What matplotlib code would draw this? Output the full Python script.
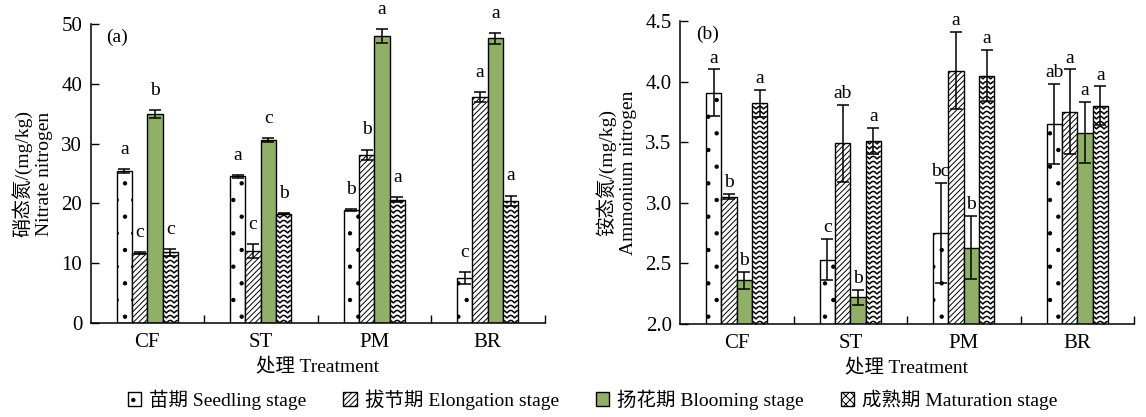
import numpy as np
import matplotlib
matplotlib.use("Agg")
import matplotlib.pyplot as plt
from matplotlib.patches import Patch
from matplotlib.collections import LineCollection

plt.rcParams['font.family'] = ['Liberation Serif', 'Noto Sans CJK SC', 'DejaVu Sans']
plt.rcParams['hatch.linewidth'] = 0.7

treatments = ['CF', 'ST', 'PM', 'BR']
stages = ['苗期 Seedling stage', '拔节期 Elongation stage', '扬花期 Blooming stage', '成熟期 Maturation stage']

# nitrate nitrogen (mg/kg), rows = stage, cols = treatment
nitrate_mean = [
    [25.4, 24.5, 18.9, 7.5],
    [11.7, 12.0, 28.1, 37.8],
    [34.9, 30.6, 48.0, 47.6],
    [11.8, 18.3, 20.6, 20.4],
]
nitrate_err = [
    [0.3, 0.2, 0.2, 1.0],
    [0.2, 1.2, 0.9, 0.8],
    [0.7, 0.3, 1.1, 0.9],
    [0.6, 0.1, 0.4, 0.9],
]
nitrate_letters = [
    ['a', 'a', 'b', 'c'],
    ['c', 'c', 'b', 'a'],
    ['b', 'c', 'a', 'a'],
    ['c', 'b', 'a', 'a'],
]

# ammonium nitrogen (mg/kg)
ammonium_mean = [
    [3.91, 2.53, 2.75, 3.65],
    [3.05, 3.49, 4.09, 3.75],
    [2.36, 2.22, 2.63, 3.58],
    [3.82, 3.51, 4.05, 3.80],
]
ammonium_err = [
    [0.19, 0.17, 0.41, 0.33],
    [0.02, 0.32, 0.32, 0.35],
    [0.07, 0.06, 0.26, 0.25],
    [0.11, 0.11, 0.21, 0.16],
]
ammonium_letters = [
    ['a', 'c', 'bc', 'ab'],
    ['b', 'ab', 'a', 'a'],
    ['b', 'b', 'b', 'a'],
    ['a', 'a', 'a', 'a'],
]

green = '#8fb066'
facecolors = ['white', 'white', green, 'white']
hatches = ['.', '//////', None, None]


def wave_fill(ax, bar, ymin):
    # scalloped rows like the reference's maturation pattern
    x0 = bar.get_x()
    w = bar.get_width()
    top = bar.get_y() + bar.get_height()
    ylo, yhi = ax.get_ylim()
    units_per_px = (yhi - ylo) / ax.bbox.height
    pitch = 5.0 * units_per_px
    amp = 2.6 * units_per_px
    xs = np.linspace(x0, x0 + w, 40)
    segs = []
    for yr in np.arange(ymin, top + pitch, pitch):
        ys = yr + amp * np.abs(np.cos(2 * np.pi * (xs - x0) / w))
        segs.append(np.column_stack([xs, ys]))
    lc = LineCollection(segs, colors='black', linewidths=1.1, zorder=2.5)
    ax.add_collection(lc)
    lc.set_clip_path(bar)


def draw_panel(ax, means, errs, letters, ylim, yticks, fmt, tag, ylabel, gap):
    ax.set_xlim(0, 4)
    ax.set_ylim(*ylim)
    x = np.arange(len(treatments)) + 0.5
    width = 0.135
    for i in range(4):
        pos = x + (i - 1.5) * width
        bars = ax.bar(pos, means[i], width, color=facecolors[i], edgecolor='black',
                      linewidth=1.0, hatch=hatches[i], zorder=2)
        ax.errorbar(pos, means[i], yerr=errs[i], fmt='none', ecolor='black',
                    elinewidth=1.1, capsize=4, capthick=1.1, zorder=3)
        if i == 3:
            for b in bars:
                wave_fill(ax, b, ylim[0])
        for j in range(4):
            ax.annotate(letters[i][j], (pos[j], means[i][j] + errs[i][j]),
                        xytext=(0, gap), textcoords='offset points',
                        ha='center', va='baseline', fontsize=14)
    ax.set_xticks([1, 2, 3, 4])
    ax.set_xticklabels([])
    ax.set_xticks(x, minor=True)
    ax.set_xticklabels(treatments, minor=True, fontsize=15)
    ax.tick_params(axis='x', which='major', direction='in', length=6, width=1)
    ax.tick_params(axis='x', which='minor', length=0, pad=7)
    ax.set_yticks(yticks)
    ax.set_yticklabels([fmt.format(v) for v in yticks], fontsize=15)
    ax.tick_params(axis='y', direction='in', length=6, width=1, pad=6)
    for s in ['top', 'right']:
        ax.spines[s].set_visible(False)
    for s in ['left', 'bottom']:
        ax.spines[s].set_linewidth(1.1)
    ax.set_xlabel('处理 Treatment', fontsize=14, labelpad=4)
    ax.set_ylabel(ylabel, fontsize=14, labelpad=6, linespacing=1.3)
    ax.text(0.035, 0.985, tag, transform=ax.transAxes, fontsize=14, va='top')


fig = plt.figure(figsize=(11.46, 4.17), dpi=100)
ax1 = fig.add_axes([90.5 / 1146, 94 / 417, 454 / 1146, 299 / 417])
ax2 = fig.add_axes([680 / 1146, 93 / 417, 454 / 1146, 303 / 417])

draw_panel(ax1, nitrate_mean, nitrate_err, nitrate_letters, (0, 50),
           [0, 10, 20, 30, 40, 50], '{:.0f}', '(a)', '硝态氮/(mg/kg)\nNitrate nitrogen', 11)
draw_panel(ax2, ammonium_mean, ammonium_err, ammonium_letters, (2.0, 4.5),
           [2.0, 2.5, 3.0, 3.5, 4.0, 4.5], '{:.1f}', '(b)', '铵态氮/(mg/kg)\nAmmonium nitrogen', 5)

handles = [
    Patch(facecolor='white', edgecolor='black', hatch='.', label=stages[0]),
    Patch(facecolor='white', edgecolor='black', hatch='//////', label=stages[1]),
    Patch(facecolor=green, edgecolor='black', label=stages[2]),
    Patch(facecolor='white', edgecolor='black', hatch='xxxx', label=stages[3]),
]
fig.legend(handles=handles, loc='lower center', bbox_to_anchor=(0.517, -0.025), ncol=4,
           frameon=False, fontsize=14, handlelength=0.7, handleheight=0.7,
           handletextpad=0.4, columnspacing=1.9)

fig.savefig('out.png', dpi=100)
